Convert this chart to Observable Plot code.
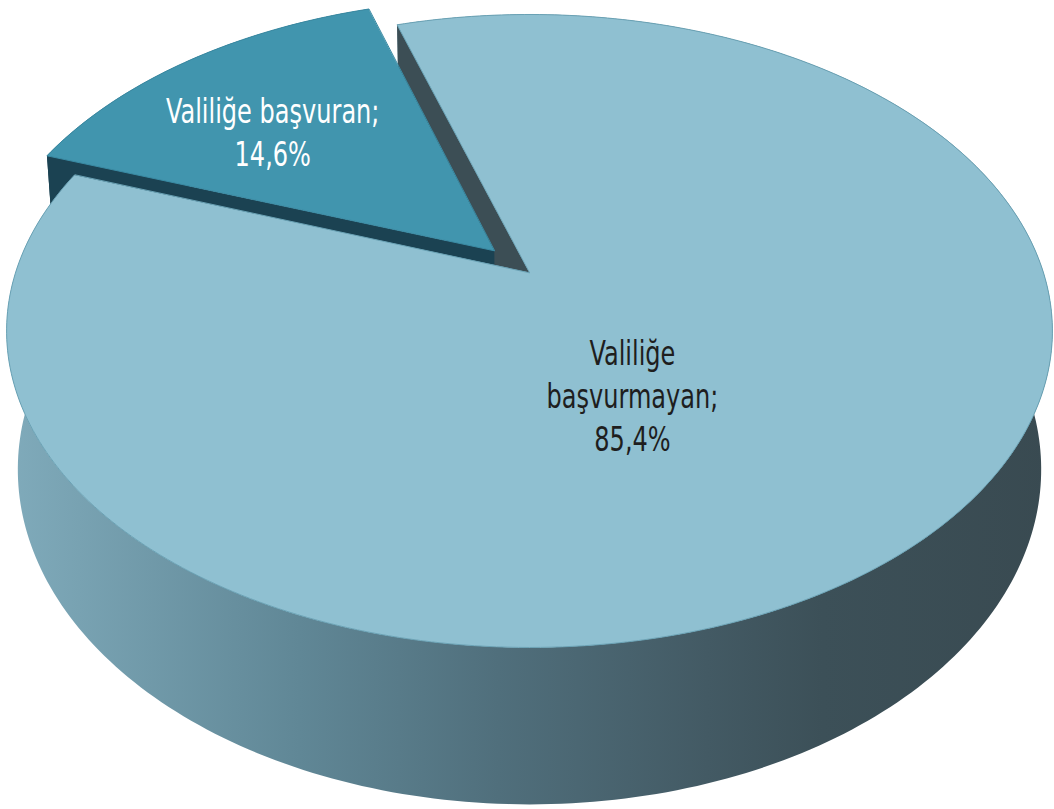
<!DOCTYPE html>
<html><head><meta charset="utf-8">
<script src="https://cdn.jsdelivr.net/npm/d3@7"></script>
<script src="https://cdn.jsdelivr.net/npm/@observablehq/plot@0.6"></script>
<style>html,body{margin:0;padding:0;background:#fff;} #chart svg{display:block}</style>
</head><body><div id="chart"></div>
<script>
// ---- data ----
const categories = ["Valiliğe başvuran", "Valiliğe başvurmayan"];
const values = [14.6, 85.4];
const labelTexts = ["Valiliğe başvuran;\n14,6%", "Valiliğe\nbaşvurmayan;\n85,4%"];
const exploded = [true, false];

// ---- view / style ----
const W = 1054, H = 809;
const view = {cx: 529, cy: 272, D: 4.351, F: 2236, tilt: 36.5, thick: 0.337, depthK: 0.46, start: 199.8, explode: 0.1};
const topFill = ["#4195ae", "#8fc0d1"];
const topStroke = ["#3a8aa3", "#6aa2b5"];
const wallFill = ["#1d4453", "url(#wallGrad)"];
const radialFill = ["#1b4252", "#3c4e55"];
const labelPlace = [{dAngle: -4.6, r: 0.635, fill: "#ffffff"}, {dAngle: 18, r: 0.426, fill: "#1e1e1e"}];
const labelFont = {size: 33, squeeze: 0.81, dy: -4, family: "'Liberation Sans Narrow', 'DejaVu Sans Condensed', 'DejaVu Sans', sans-serif"};

const rad = Math.PI / 180;
const s = Math.sin(view.tilt * rad), c = Math.cos(view.tilt * rad);
function proj(X, Z, h) {
  const d = view.D - Z * c - h * s * view.depthK;
  return {x: view.cx + X * view.F / d, y: view.cy + (Z * s - h * c) * view.F / d};
}
const cam = {X: 0, H: view.D * s, Z: view.D * c};

const total = d3.sum(values);
let acc = view.start;
const slices = values.map((v, i) => {
  const a0 = acc, a1 = acc + v / total * 360; acc = a1;
  const mid = (a0 + a1) / 2;
  const e = exploded[i] ? view.explode : 0;
  return {i, a0, a1, mid, ox: e * Math.cos(mid * rad), oz: e * Math.sin(mid * rad)};
});

function arc(sl, from, to, h) {
  const n = Math.max(2, Math.ceil(Math.abs(to - from)));
  const pts = [];
  for (let k = 0; k <= n; k++) {
    const a = (from + (to - from) * k / n) * rad;
    pts.push(proj(sl.ox + Math.cos(a), sl.oz + Math.sin(a), h));
  }
  return pts;
}
function topFace(sl) {
  return {pts: [proj(sl.ox, sl.oz, 0), ...arc(sl, sl.a0, sl.a1, 0)], fill: topFill[sl.i], stroke: topStroke[sl.i], sw: 1};
}
function wallFace(sl) {
  return {pts: [...arc(sl, sl.a0, sl.a1, 0), ...arc(sl, sl.a1, sl.a0, -view.thick)], fill: wallFill[sl.i], stroke: "none", sw: 0};
}
function radialFaces(sl) {
  const res = [];
  [[sl.a0, sl.a0 - 90], [sl.a1, sl.a1 + 90]].forEach(([a, na]) => {
    const nx = Math.cos(na * rad), nz = Math.sin(na * rad);
    const qx = sl.ox + 0.5 * Math.cos(a * rad), qz = sl.oz + 0.5 * Math.sin(a * rad);
    const dot = nx * (cam.X - qx) + nz * (cam.Z - qz);
    if (dot > 0) {
      const rx = sl.ox + Math.cos(a * rad), rz = sl.oz + Math.sin(a * rad);
      res.push({pts: [proj(sl.ox, sl.oz, 0), proj(rx, rz, 0), proj(rx, rz, -view.thick), proj(sl.ox, sl.oz, -view.thick)],
        fill: radialFill[sl.i], stroke: "none", sw: 0});
    }
  });
  return res;
}

const faces = [];
const flat = slices.filter(d => !exploded[d.i]);
const moved = slices.filter(d => exploded[d.i]);
flat.forEach(sl => { faces.push(wallFace(sl)); faces.push(...radialFaces(sl)); });
moved.forEach(sl => { faces.push(wallFace(sl)); faces.push(...radialFaces(sl)); faces.push(topFace(sl)); });
flat.forEach(sl => faces.push(topFace(sl)));

const labels = slices.map(sl => {
  const p = labelPlace[sl.i];
  const a = (sl.mid + p.dAngle) * rad;
  const q = proj(sl.ox + p.r * Math.cos(a), sl.oz + p.r * Math.sin(a), 0);
  return {x: q.x, y: q.y, text: labelTexts[sl.i], fill: p.fill, name: categories[sl.i]};
});

const marks = faces.map(f => Plot.line(f.pts, {x: "x", y: "y", fill: f.fill, stroke: f.stroke, strokeWidth: f.sw, curve: "linear-closed"}));
labels.forEach(l => marks.push(Plot.text([l], {x: "x", y: "y", text: "text", fill: l.fill, fontSize: labelFont.size, dy: labelFont.dy,
  fontFamily: labelFont.family, lineHeight: 1.3, textAnchor: "middle", className: "pie-label"})));

const svg = Plot.plot({
  width: W, height: H, margin: 0,
  x: {domain: [0, W], range: [0, W], axis: null},
  y: {domain: [0, H], range: [0, H], axis: null},
  style: {background: "#ffffff"},
  marks
});
const defs = d3.select(svg).insert("defs", ":first-child");
const g = defs.append("linearGradient").attr("id", "wallGrad").attr("x1", "0").attr("x2", "1").attr("y1", "0").attr("y2", "0");
[[0, "#80abbb"], [0.28, "#608796"], [0.47, "#506f7c"], [0.67, "#435a64"], [0.78, "#3c5058"], [1, "#394a51"]]
  .forEach(([o, col]) => g.append("stop").attr("offset", o).attr("stop-color", col));
// narrow the label glyphs horizontally (condensed face look)
d3.select(svg).selectAll("g.pie-label text, .pie-label text").each(function () {
  const t = this.getAttribute("transform");
  if (t) this.setAttribute("transform", t + ` scale(${labelFont.squeeze},1)`);
  else {
    const x = +this.getAttribute("x") || 0;
    this.setAttribute("transform", `translate(${x},0) scale(${labelFont.squeeze},1) translate(${-x},0)`);
  }
});
document.getElementById("chart").appendChild(svg);
</script>
</body></html>
